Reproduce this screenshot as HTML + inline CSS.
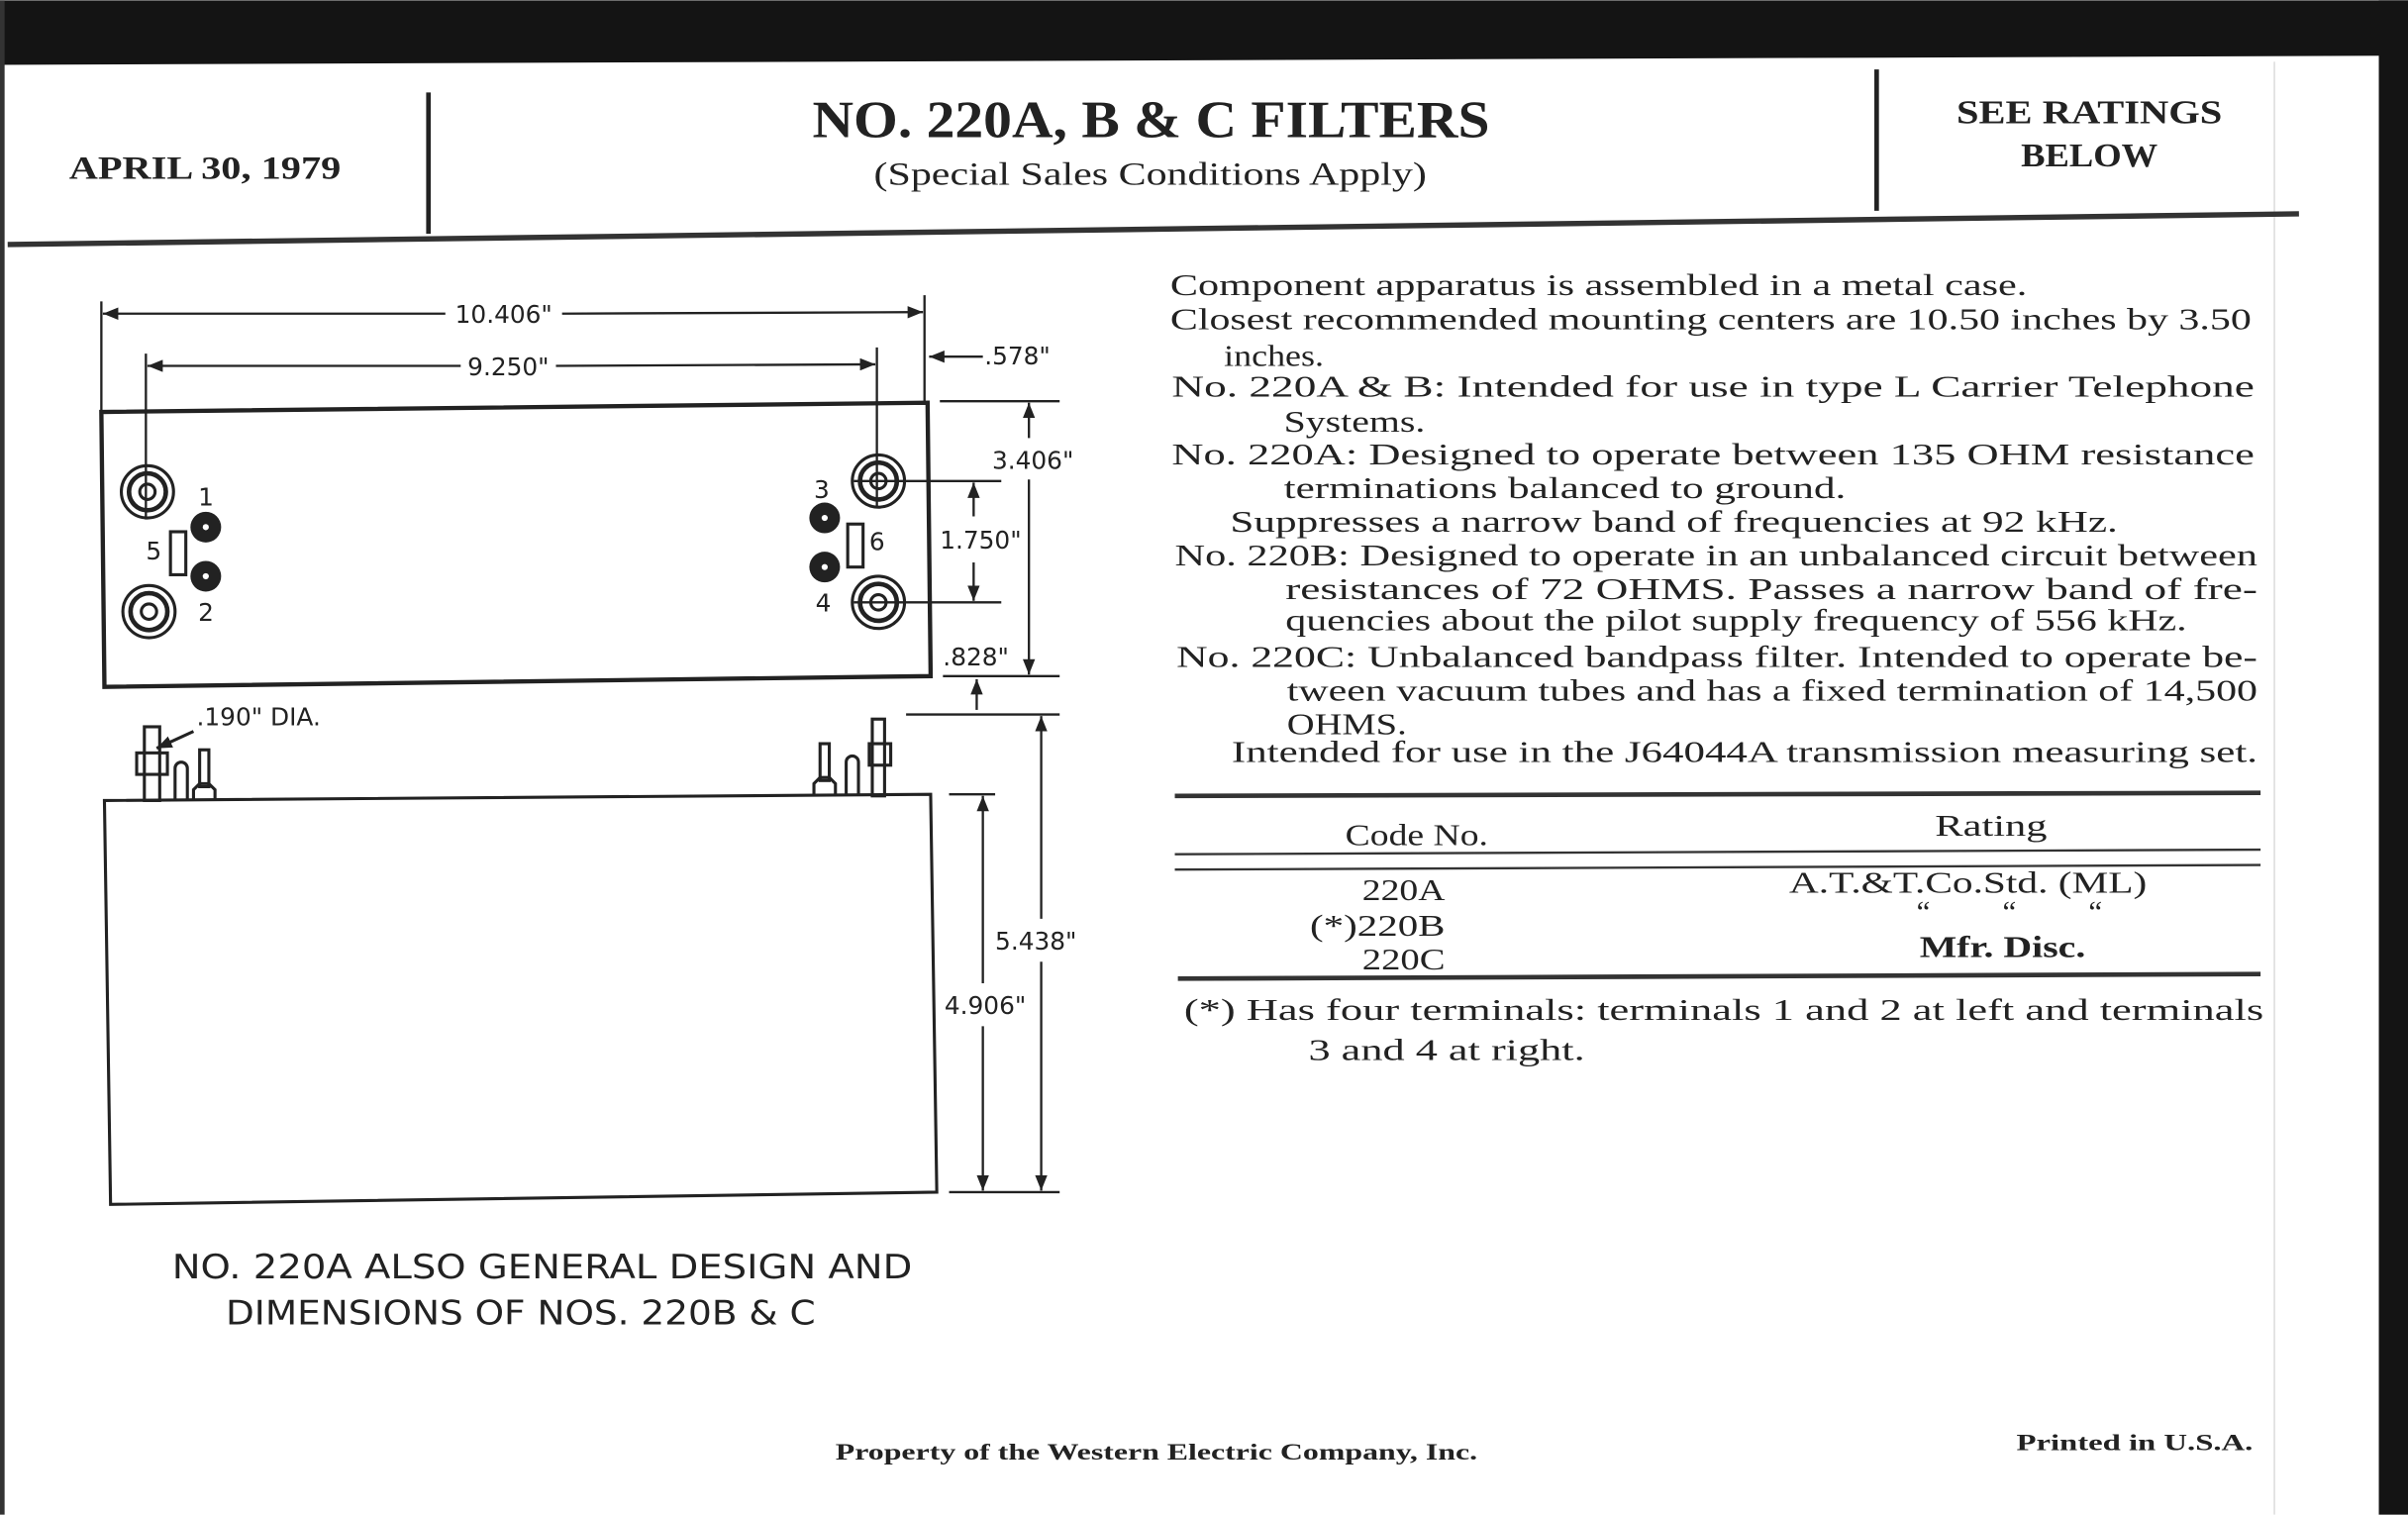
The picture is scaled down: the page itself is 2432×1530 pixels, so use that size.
<!DOCTYPE html>
<html><head><meta charset="utf-8"><style>
html,body{margin:0;padding:0;background:#fff;}
svg{display:block}
.s{font-family:"Liberation Serif",serif;fill:#222}
.d{font-family:"DejaVu Sans","Liberation Sans",sans-serif;fill:#222}
</style></head><body>
<svg width="2432" height="1530" viewBox="0 0 1568 986" xmlns="http://www.w3.org/2000/svg">
<rect width="1568" height="986" fill="#fff"/>
<polygon points="0,0 1568,0 1568,36 0,42" fill="#141414"/>
<rect x="1549" y="0" width="19" height="986" fill="#141414"/>
<rect x="0" y="0" width="3" height="986" fill="#333"/>
<line x1="1481" y1="40" x2="1481" y2="986" stroke="#ddd" stroke-width="1"/>
<!-- header -->
<text class="s" x="45" y="116" font-size="21" font-weight="bold" textLength="177" lengthAdjust="spacingAndGlyphs">APRIL  30,  1979</text>
<line x1="279" y1="60" x2="279" y2="152" stroke="#222" stroke-width="3"/>
<line x1="1222" y1="45" x2="1222" y2="137" stroke="#222" stroke-width="3"/>
<text class="s" x="529" y="89" font-size="34" font-weight="bold" textLength="441" lengthAdjust="spacingAndGlyphs">NO. 220A, B &amp; C FILTERS</text>
<text class="s" x="569" y="120" font-size="21" textLength="360" lengthAdjust="spacingAndGlyphs">(Special Sales Conditions Apply)</text>
<text class="s" x="1274" y="80" font-size="22" font-weight="bold" textLength="173" lengthAdjust="spacingAndGlyphs">SEE RATINGS</text>
<text class="s" x="1316" y="108" font-size="22" font-weight="bold" textLength="89" lengthAdjust="spacingAndGlyphs">BELOW</text>
<line x1="5" y1="159" x2="1497" y2="139" stroke="#333" stroke-width="3.5"/>
<!-- body text -->
<g class="s" font-size="20">
<text x="762" y="192" textLength="558" lengthAdjust="spacingAndGlyphs">Component apparatus is assembled in a metal case.</text>
<text x="762" y="214" textLength="704" lengthAdjust="spacingAndGlyphs">Closest recommended mounting centers are 10.50 inches by 3.50</text>
<text x="797" y="238" textLength="65" lengthAdjust="spacingAndGlyphs">inches.</text>
<text x="763" y="258" textLength="705" lengthAdjust="spacingAndGlyphs">No. 220A &amp; B:  Intended for use in type L Carrier Telephone</text>
<text x="836" y="281" textLength="92" lengthAdjust="spacingAndGlyphs">Systems.</text>
<text x="763" y="302" textLength="705" lengthAdjust="spacingAndGlyphs">No. 220A:  Designed to operate between 135 OHM resistance</text>
<text x="836" y="324" textLength="366" lengthAdjust="spacingAndGlyphs">terminations balanced to ground.</text>
<text x="801" y="346" textLength="578" lengthAdjust="spacingAndGlyphs">Suppresses a narrow band of frequencies at 92 kHz.</text>
<text x="765" y="368" textLength="705" lengthAdjust="spacingAndGlyphs">No. 220B:  Designed to operate in an unbalanced circuit between</text>
<text x="837" y="390" textLength="633" lengthAdjust="spacingAndGlyphs">resistances of 72 OHMS. Passes a narrow band of fre-</text>
<text x="837" y="410" textLength="587" lengthAdjust="spacingAndGlyphs">quencies about the pilot supply frequency of 556 kHz.</text>
<text x="766" y="434" textLength="704" lengthAdjust="spacingAndGlyphs">No. 220C:  Unbalanced bandpass filter. Intended to operate be-</text>
<text x="838" y="456" textLength="632" lengthAdjust="spacingAndGlyphs">tween vacuum tubes and has a fixed termination of 14,500</text>
<text x="838" y="478" textLength="78" lengthAdjust="spacingAndGlyphs">OHMS.</text>
<text x="802" y="496" textLength="668" lengthAdjust="spacingAndGlyphs">Intended for use in the J64044A transmission measuring set.</text>
</g>
<!-- table -->
<line x1="765" y1="518" x2="1472" y2="516" stroke="#333" stroke-width="3"/>
<text class="s" x="876" y="550" font-size="20" textLength="93" lengthAdjust="spacingAndGlyphs">Code No.</text>
<text class="s" x="1260" y="544" font-size="20" textLength="73" lengthAdjust="spacingAndGlyphs">Rating</text>
<line x1="765" y1="556" x2="1472" y2="553" stroke="#333" stroke-width="1.5"/>
<line x1="765" y1="566" x2="1472" y2="563" stroke="#333" stroke-width="1.5"/>
<g class="s" font-size="20">
<text x="887" y="586" textLength="54" lengthAdjust="spacingAndGlyphs">220A</text>
<text x="853" y="609" textLength="88" lengthAdjust="spacingAndGlyphs">(*)220B</text>
<text x="887" y="631" textLength="54" lengthAdjust="spacingAndGlyphs">220C</text>
<text x="1165" y="581" textLength="233" lengthAdjust="spacingAndGlyphs">A.T.&amp;T.Co.Std.  (ML)</text>
<text x="1248" y="600">“</text><text x="1304" y="600">“</text><text x="1360" y="600">“</text>
<text x="1250" y="623" font-weight="bold" textLength="108" lengthAdjust="spacingAndGlyphs">Mfr. Disc.</text>
</g>
<line x1="767" y1="637" x2="1472" y2="634" stroke="#333" stroke-width="3"/>
<text class="s" x="771" y="664" font-size="20" textLength="703" lengthAdjust="spacingAndGlyphs">(*)  Has four terminals: terminals 1 and 2 at left and terminals</text>
<text class="s" x="852" y="690" font-size="20" textLength="180" lengthAdjust="spacingAndGlyphs">3 and 4 at right.</text>
<!-- footer -->
<text class="s" x="544" y="950" font-size="15" font-weight="bold" textLength="418" lengthAdjust="spacingAndGlyphs">Property of the Western Electric Company, Inc.</text>
<text class="s" x="1313" y="944" font-size="15" font-weight="bold" textLength="154" lengthAdjust="spacingAndGlyphs">Printed in U.S.A.</text>
<!-- drawing -->
<defs>
<marker id="a" markerWidth="10" markerHeight="8" refX="10" refY="4" orient="auto" markerUnits="userSpaceOnUse"><path d="M0,0 L10,4 L0,8 z" fill="#222"/></marker>
</defs>
<g stroke="#222" fill="none">
<polygon points="66,268 604,262 606,440 68,447" stroke-width="2.8"/>
<line x1="66" y1="196" x2="66" y2="268" stroke-width="1.5"/>
<line x1="602" y1="192" x2="602" y2="262" stroke-width="1.5"/>
<line x1="290" y1="204" x2="67" y2="204" stroke-width="1.5" marker-end="url(#a)"/>
<line x1="366" y1="204" x2="601" y2="203" stroke-width="1.5" marker-end="url(#a)"/>
<line x1="95" y1="230" x2="95" y2="338" stroke-width="1.5"/>
<line x1="571" y1="226" x2="571" y2="330" stroke-width="1.5"/>
<line x1="300" y1="238" x2="96" y2="238" stroke-width="1.5" marker-end="url(#a)"/>
<line x1="362" y1="238" x2="570" y2="237" stroke-width="1.5" marker-end="url(#a)"/>
<line x1="640" y1="232" x2="605" y2="232" stroke-width="1.5" marker-end="url(#a)"/>
<line x1="612" y1="261" x2="690" y2="261" stroke-width="1.5"/>
<line x1="614" y1="440" x2="690" y2="440" stroke-width="1.5"/>
<line x1="556" y1="313" x2="652" y2="313" stroke-width="1.5"/>
<line x1="556" y1="392" x2="652" y2="392" stroke-width="1.5"/>
<line x1="670" y1="285" x2="670" y2="262" stroke-width="1.5" marker-end="url(#a)"/>
<line x1="670" y1="312" x2="670" y2="439" stroke-width="1.5" marker-end="url(#a)"/>
<line x1="634" y1="336" x2="634" y2="314" stroke-width="1.5" marker-end="url(#a)"/>
<line x1="634" y1="366" x2="634" y2="391" stroke-width="1.5" marker-end="url(#a)"/>
<line x1="636" y1="462" x2="636" y2="442" stroke-width="1.5" marker-end="url(#a)"/>
<polygon points="68,521 606,517 610,776 72,784" stroke-width="2"/>
<line x1="590" y1="465" x2="690" y2="465" stroke-width="1.5"/>
<line x1="618" y1="517" x2="648" y2="517" stroke-width="1.5"/>
<line x1="618" y1="776" x2="690" y2="776" stroke-width="1.5"/>
<line x1="640" y1="640" x2="640" y2="518" stroke-width="1.5" marker-end="url(#a)"/>
<line x1="640" y1="668" x2="640" y2="775" stroke-width="1.5" marker-end="url(#a)"/>
<line x1="678" y1="598" x2="678" y2="466" stroke-width="1.5" marker-end="url(#a)"/>
<line x1="678" y1="626" x2="678" y2="775" stroke-width="1.5" marker-end="url(#a)"/>
<line x1="126" y1="476" x2="102" y2="487" stroke-width="2" marker-end="url(#a)"/>
<rect x="94" y="473" width="10" height="48" stroke-width="2"/>
<rect x="89" y="490" width="20" height="14" stroke-width="2"/>
<path d="M114,521 V500 a4,4 0 0 1 8,0 V521" stroke-width="2"/>
<rect x="130" y="488" width="6" height="24" stroke-width="2"/>
<path d="M126,521 V514 l4,-4 h6 l4,4 V521" stroke-width="2"/>
<rect x="568" y="468" width="8" height="50" stroke-width="2"/>
<rect x="566" y="484" width="14" height="14" stroke-width="2"/>
<path d="M551,518 V496 a4,4 0 0 1 8,0 V518" stroke-width="2"/>
<rect x="534" y="484" width="6" height="24" stroke-width="2"/>
<path d="M530,518 V510 l4,-4 h6 l4,4 V518" stroke-width="2"/>
<g stroke-width="2">
<circle cx="96" cy="320" r="17"/><circle cx="96" cy="320" r="12" stroke-width="3"/><circle cx="96" cy="320" r="5"/>
<circle cx="97" cy="398" r="17"/><circle cx="97" cy="398" r="12" stroke-width="3"/><circle cx="97" cy="398" r="5"/>
<circle cx="572" cy="313" r="17"/><circle cx="572" cy="313" r="12" stroke-width="3"/><circle cx="572" cy="313" r="5"/>
<circle cx="572" cy="392" r="17"/><circle cx="572" cy="392" r="12" stroke-width="3"/><circle cx="572" cy="392" r="5"/>
<rect x="111" y="346" width="10" height="28"/>
<rect x="552" y="341" width="10" height="28"/>
</g>
</g>
<g fill="#222">
<circle cx="134" cy="343" r="10"/><circle cx="134" cy="375" r="10"/>
<circle cx="537" cy="337" r="10"/><circle cx="537" cy="369" r="10"/>
</g>
<g fill="#fff"><circle cx="134" cy="343" r="2"/><circle cx="134" cy="375" r="2"/><circle cx="537" cy="337" r="2"/><circle cx="537" cy="369" r="2"/></g>
<g class="d" font-size="16">
<text x="328" y="210" text-anchor="middle">10.406"</text>
<text x="331" y="244" text-anchor="middle">9.250"</text>
<text x="641" y="237">.578"</text>
<text x="646" y="305">3.406"</text>
<text x="612" y="357">1.750"</text>
<text x="614" y="433">.828"</text>
<text x="648" y="618">5.438"</text>
<text x="615" y="660">4.906"</text>
<text x="128" y="472">.190" DIA.</text>
<text x="129" y="329">1</text><text x="129" y="404">2</text><text x="95" y="364">5</text>
<text x="530" y="324">3</text><text x="531" y="398">4</text><text x="566" y="358">6</text>
</g>
<text class="d" x="112" y="832" font-size="22" textLength="482" lengthAdjust="spacingAndGlyphs">NO. 220A ALSO GENERAL DESIGN AND</text>
<text class="d" x="147" y="862" font-size="22" textLength="384" lengthAdjust="spacingAndGlyphs">DIMENSIONS OF NOS. 220B &amp; C</text>
</svg>
</body></html>
